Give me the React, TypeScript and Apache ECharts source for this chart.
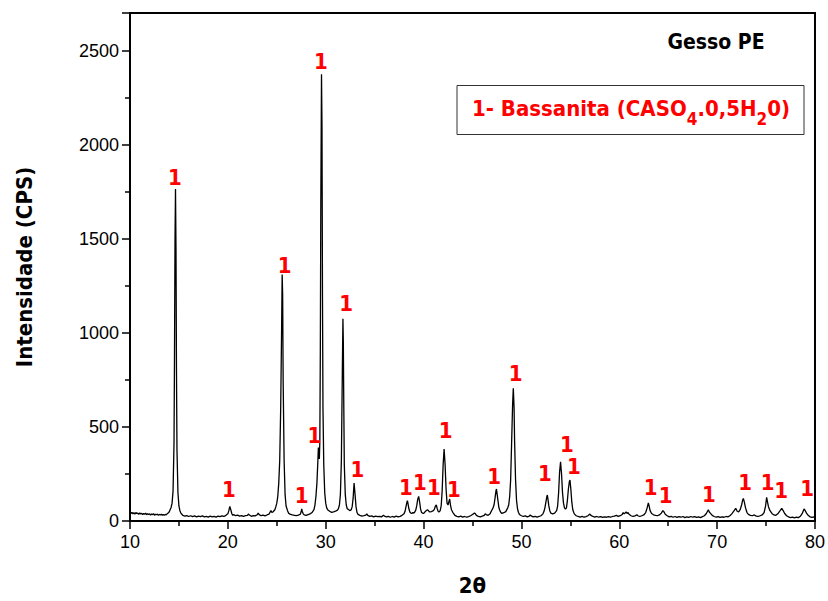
import React, { useEffect, useRef } from "react";
import * as echarts from "echarts";

// Diffractogram: [2θ, intensity (CPS)]
const spectrum: [number, number][] = [
  [10.0, 52], [10.1, 40], [10.2, 46], [10.3, 38], [10.4, 44], [10.5, 36], [10.6, 45], [10.7, 39], [10.8, 42], [10.9, 35],
  [11.0, 43], [11.1, 37], [11.2, 41], [11.3, 34], [11.4, 40], [11.5, 36], [11.6, 42], [11.7, 33], [11.8, 39], [11.9, 35],
  [12.0, 38], [12.1, 32], [12.2, 37], [12.3, 34], [12.4, 39], [12.5, 31], [12.6, 36], [12.7, 33], [12.8, 37], [12.9, 30],
  [13.0, 35], [13.1, 32], [13.2, 36], [13.3, 31], [13.4, 34], [13.5, 30], [13.6, 35], [13.7, 33], [13.8, 38], [13.9, 42],
  [14.0, 48], [14.1, 60], [14.2, 72], [14.3, 95], [14.4, 160], [14.5, 420], [14.55, 900], [14.6, 1500], [14.65, 1765],
  [14.7, 1450], [14.75, 800], [14.8, 380], [14.9, 150], [15.0, 80], [15.1, 55], [15.2, 42], [15.3, 36],
  [15.4, 30], [15.6, 26], [15.8, 29], [16.0, 24], [16.2, 28], [16.4, 23], [16.6, 27], [16.8, 22], [17.0, 26], [17.2, 23],
  [17.4, 27], [17.6, 22], [17.8, 25], [18.0, 21], [18.2, 26], [18.4, 22], [18.6, 25], [18.8, 21], [19.0, 26], [19.2, 23],
  [19.4, 27], [19.6, 24], [19.8, 30], [20.0, 38], [20.1, 55], [20.2, 78], [20.3, 60], [20.4, 40], [20.5, 30], [20.6, 34],
  [20.8, 28], [21.0, 31], [21.2, 26], [21.4, 29], [21.6, 25], [21.8, 28], [22.0, 30], [22.1, 37], [22.2, 32], [22.4, 25],
  [22.6, 29], [22.8, 27], [23.0, 33], [23.1, 42], [23.2, 34], [23.4, 28], [23.6, 31], [23.8, 27], [24.0, 32], [24.2, 36],
  [24.4, 55], [24.5, 45], [24.6, 48], [24.8, 60], [24.9, 75], [25.0, 95], [25.1, 130], [25.2, 200], [25.3, 320],
  [25.4, 600], [25.5, 1050], [25.55, 1310], [25.6, 1200], [25.65, 750], [25.75, 320], [25.85, 140], [25.95, 80],
  [26.1, 55], [26.2, 42], [26.4, 35], [26.6, 32], [26.8, 30], [27.0, 28], [27.2, 31], [27.4, 36], [27.5, 50], [27.55, 64],
  [27.6, 52], [27.7, 38], [27.8, 33], [28.0, 30], [28.2, 34], [28.4, 38], [28.6, 45], [28.8, 60], [28.9, 85], [29.0, 130],
  [29.1, 200], [29.2, 320], [29.25, 390], [29.3, 350], [29.35, 330], [29.4, 420], [29.45, 900], [29.5, 1700],
  [29.57, 2375], [29.62, 2100], [29.67, 1200], [29.72, 600], [29.8, 300], [29.9, 150], [30.0, 95], [30.1, 70], [30.2, 60],
  [30.4, 52], [30.6, 46], [30.8, 48], [31.0, 52], [31.2, 58], [31.3, 66], [31.4, 85], [31.5, 140], [31.6, 320],
  [31.7, 800], [31.76, 1075], [31.8, 950], [31.85, 600], [31.9, 300], [32.0, 140], [32.1, 85], [32.2, 65], [32.3, 62],
  [32.4, 58], [32.5, 55], [32.6, 60], [32.7, 75], [32.8, 120], [32.9, 202], [33.0, 140], [33.1, 75], [33.2, 45],
  [33.3, 35], [33.5, 30], [33.7, 26], [33.9, 28], [34.1, 31], [34.2, 38], [34.3, 30], [34.5, 25], [34.7, 27], [34.9, 22],
  [35.1, 26], [35.3, 23], [35.5, 25], [35.7, 22], [35.9, 30], [36.0, 26], [36.2, 22], [36.4, 25], [36.6, 20], [36.8, 24],
  [37.0, 21], [37.2, 26], [37.4, 22], [37.6, 25], [37.8, 30], [38.0, 38], [38.1, 50], [38.2, 75], [38.3, 100],
  [38.35, 108], [38.4, 95], [38.5, 65], [38.6, 48], [38.7, 42], [38.8, 40], [38.9, 45], [39.0, 42], [39.1, 48],
  [39.2, 58], [39.3, 80], [39.4, 115], [39.5, 131], [39.6, 100], [39.7, 62], [39.8, 45], [39.9, 42], [40.0, 40],
  [40.1, 46], [40.2, 52], [40.4, 60], [40.5, 55], [40.6, 48], [40.8, 50], [41.0, 55], [41.1, 62], [41.2, 78], [41.3, 85],
  [41.4, 65], [41.5, 50], [41.6, 48], [41.7, 55], [41.8, 80], [41.9, 160], [42.0, 300], [42.1, 382], [42.2, 300],
  [42.3, 170], [42.4, 95], [42.5, 85], [42.6, 105], [42.67, 117], [42.75, 85], [42.85, 60], [43.0, 45], [43.1, 38],
  [43.2, 30], [43.4, 25], [43.6, 22], [43.8, 26], [44.0, 21], [44.2, 24], [44.4, 20], [44.6, 23], [44.8, 28], [45.0, 35],
  [45.2, 42], [45.3, 38], [45.4, 30], [45.6, 24], [45.8, 22], [46.0, 26], [46.2, 30], [46.3, 38], [46.4, 34], [46.6, 30],
  [46.8, 38], [46.9, 50], [47.0, 60], [47.1, 70], [47.2, 85], [47.3, 120], [47.4, 160], [47.45, 170], [47.5, 150],
  [47.6, 110], [47.7, 70], [47.8, 55], [47.9, 45], [48.0, 40], [48.2, 44], [48.4, 50], [48.6, 70], [48.7, 85],
  [48.8, 130], [48.9, 220], [49.0, 420], [49.1, 620], [49.17, 705], [49.25, 600], [49.3, 430], [49.4, 220], [49.5, 110],
  [49.6, 65], [49.7, 45], [49.8, 35], [50.0, 28], [50.2, 24], [50.4, 27], [50.6, 22], [50.8, 26], [50.9, 32], [51.0, 27],
  [51.2, 22], [51.4, 25], [51.6, 21], [51.8, 24], [52.0, 28], [52.2, 38], [52.3, 50], [52.4, 70], [52.5, 100],
  [52.6, 130], [52.65, 138], [52.7, 120], [52.8, 80], [52.9, 55], [53.0, 42], [53.2, 38], [53.4, 42], [53.6, 55],
  [53.7, 80], [53.8, 150], [53.9, 260], [54.0, 315], [54.1, 250], [54.2, 150], [54.3, 95], [54.4, 70], [54.5, 64],
  [54.6, 70], [54.7, 110], [54.8, 170], [54.9, 210], [54.96, 218], [55.05, 170], [55.15, 100], [55.25, 60], [55.4, 38],
  [55.6, 28], [55.8, 24], [56.0, 21], [56.2, 25], [56.4, 20], [56.6, 23], [56.8, 28], [57.0, 37], [57.1, 30], [57.3, 24],
  [57.5, 21], [57.7, 24], [57.9, 20], [58.1, 23], [58.3, 19], [58.5, 22], [58.7, 20], [58.9, 23], [59.1, 20], [59.3, 24],
  [59.5, 26], [59.7, 30], [59.9, 25], [60.1, 28], [60.3, 35], [60.4, 45], [60.5, 38], [60.6, 42], [60.7, 48], [60.8, 40],
  [60.9, 45], [61.0, 36], [61.2, 28], [61.4, 24], [61.6, 27], [61.8, 33], [61.9, 28], [62.1, 24], [62.3, 28], [62.5, 32],
  [62.7, 45], [62.85, 70], [62.97, 96], [63.05, 80], [63.15, 55], [63.3, 40], [63.5, 33], [63.7, 30], [63.9, 28],
  [64.1, 32], [64.3, 42], [64.45, 55], [64.55, 50], [64.7, 36], [64.9, 28], [65.1, 22], [65.3, 25], [65.5, 20],
  [65.7, 24], [65.9, 19], [66.1, 23], [66.3, 20], [66.5, 24], [66.7, 18], [66.9, 22], [67.1, 19], [67.3, 24], [67.5, 20],
  [67.7, 23], [67.9, 19], [68.1, 22], [68.3, 18], [68.5, 23], [68.7, 28], [68.9, 40], [69.1, 60], [69.2, 48], [69.3, 42],
  [69.5, 30], [69.7, 24], [69.9, 20], [70.1, 23], [70.3, 19], [70.5, 22], [70.7, 20], [70.9, 24], [71.1, 22], [71.3, 28],
  [71.5, 38], [71.7, 52], [71.9, 67], [72.05, 52], [72.2, 48], [72.35, 60], [72.5, 85], [72.6, 110], [72.68, 120],
  [72.78, 100], [72.9, 70], [73.05, 45], [73.2, 35], [73.4, 30], [73.6, 28], [73.8, 32], [74.0, 26], [74.2, 24],
  [74.4, 28], [74.6, 32], [74.8, 45], [74.95, 80], [75.06, 126], [75.15, 100], [75.25, 75], [75.4, 55], [75.6, 40],
  [75.8, 32], [76.0, 30], [76.2, 38], [76.4, 52], [76.6, 67], [76.75, 55], [76.9, 40], [77.1, 28], [77.3, 22], [77.5, 18],
  [77.7, 21], [77.9, 17], [78.1, 20], [78.3, 18], [78.5, 25], [78.7, 40], [78.88, 64], [79.0, 55], [79.15, 40],
  [79.3, 30], [79.5, 22], [79.7, 19], [79.9, 22], [80.0, 20],
];

// Phase markers "1" (anchor position in data units: 2θ, CPS)
const peakMarks: [number, number][] = [
  [14.6, 1826], [20.1, 170], [25.8, 1359], [27.55, 138], [28.85, 453], [29.5, 2442], [32.1, 1157], [33.25, 276],
  [38.2, 178], [39.62, 205], [41.05, 180], [42.25, 480], [43.1, 170], [47.2, 234], [49.4, 786], [52.4, 255],
  [54.65, 409], [55.35, 292], [63.2, 180], [64.75, 134], [69.15, 143], [72.85, 207], [75.15, 207], [76.55, 163],
  [79.2, 172],
];
const markText = "1";

const xTitle = "2θ";
const yTitle = "Intensidade (CPS)";
const sampleTitle = "Gesso PE";
// legend text pieces: [text, isSubscript]
const legendPieces: [string, boolean][] = [
  ["1- Bassanita (CASO", false],
  ["4", true],
  [".0,5H", false],
  ["2", true],
  ["0)", false],
];

const boldFont = "'DejaVu Sans Condensed', 'DejaVu Sans', sans-serif";

export default function App() {
  const ref = useRef<HTMLDivElement>(null);
  useEffect(() => {
    if (!ref.current) return;
    const chart = echarts.init(ref.current, undefined, { renderer: "svg" });

    const mainFont = `bold 22px ${boldFont}`;
    const subFont = `bold 17px ${boldFont}`;
    const ctx = document.createElement("canvas").getContext("2d");
    const measure = (t: string, f: string) => {
      if (!ctx) return t.length * 12;
      ctx.font = f;
      return ctx.measureText(t).width;
    };
    const widths = legendPieces.map(([t, sub]) => measure(t, sub ? subFont : mainFont));
    const total = widths.reduce((a, b) => a + b, 0);
    const centerX = 631;
    const mainY = 108;
    let cursor = centerX - total / 2;
    const legendTexts = legendPieces.map(([t, sub], i) => {
      const el = {
        type: "text",
        x: cursor,
        y: sub ? mainY + 10.5 : mainY,
        z: 11,
        style: {
          text: t,
          fill: "#ff0000",
          font: sub ? subFont : mainFont,
          align: "left",
          verticalAlign: "middle",
        },
      };
      cursor += widths[i];
      return el;
    });

    chart.setOption({
      animation: false,
      backgroundColor: "#fff",
      grid: {
        left: 130,
        right: 13,
        top: 13,
        bottom: 79,
        show: true,
        borderColor: "#000",
        borderWidth: 2,
        backgroundColor: "transparent",
      },
      xAxis: {
        type: "value",
        min: 10,
        max: 80,
        interval: 10,
        name: xTitle,
        nameLocation: "middle",
        nameGap: 53,
        nameTextStyle: { fontFamily: boldFont, fontWeight: "bold", fontSize: 22, color: "#000" },
        axisLine: { onZero: false, lineStyle: { color: "#000", width: 2 } },
        axisTick: { show: true, inside: false, length: 8, lineStyle: { color: "#000", width: 1.5 } },
        minorTick: { show: true, splitNumber: 2, length: 5, lineStyle: { color: "#000", width: 1.5 } },
        axisLabel: { fontFamily: "'Liberation Sans', Arial, sans-serif", fontSize: 18, color: "#000", margin: 12 },
        splitLine: { show: false },
      },
      yAxis: {
        type: "value",
        min: 0,
        max: 2700,
        interval: 500,
        name: yTitle,
        nameLocation: "middle",
        nameGap: 95,
        nameRotate: 90,
        nameTextStyle: { fontFamily: boldFont, fontWeight: "bold", fontSize: 22, color: "#000" },
        axisLine: { onZero: false, lineStyle: { color: "#000", width: 2 } },
        axisTick: { show: true, inside: false, length: 8, lineStyle: { color: "#000", width: 1.5 } },
        minorTick: { show: true, splitNumber: 2, length: 5, lineStyle: { color: "#000", width: 1.5 } },
        axisLabel: {
          fontFamily: "'Liberation Sans', Arial, sans-serif",
          fontSize: 18,
          color: "#000",
          margin: 11,
          showMaxLabel: false,
          formatter: (v: number) => String(v),
        },
        splitLine: { show: false },
      },
      series: [
        {
          type: "line",
          data: spectrum,
          showSymbol: false,
          symbol: "none",
          lineStyle: { color: "#000", width: 1.3 },
          silent: true,
          z: 2,
        },
        {
          type: "scatter",
          data: peakMarks,
          symbolSize: 0,
          silent: true,
          z: 3,
          itemStyle: { opacity: 1 },
          label: {
            show: true,
            position: "inside",
            formatter: markText,
            color: "#ff0000",
            opacity: 1,
            fontFamily: boldFont,
            fontWeight: "bold",
            fontSize: 22,
          },
        },
      ],
      graphic: [
        {
          type: "text",
          x: 716,
          y: 42,
          style: {
            text: sampleTitle,
            fill: "#000",
            font: `bold 21px ${boldFont}`,
            align: "center",
            verticalAlign: "middle",
          },
          z: 10,
        },
        {
          type: "rect",
          shape: { x: 457, y: 85.5, width: 347, height: 49 },
          style: { fill: "#fff", stroke: "#333", lineWidth: 1 },
          z: 10,
        },
        ...legendTexts,
      ],
    });
    return () => chart.dispose();
  }, []);
  return <div ref={ref} style={{ width: 828, height: 601, position: "absolute", left: 0, top: 0 }} />;
}
